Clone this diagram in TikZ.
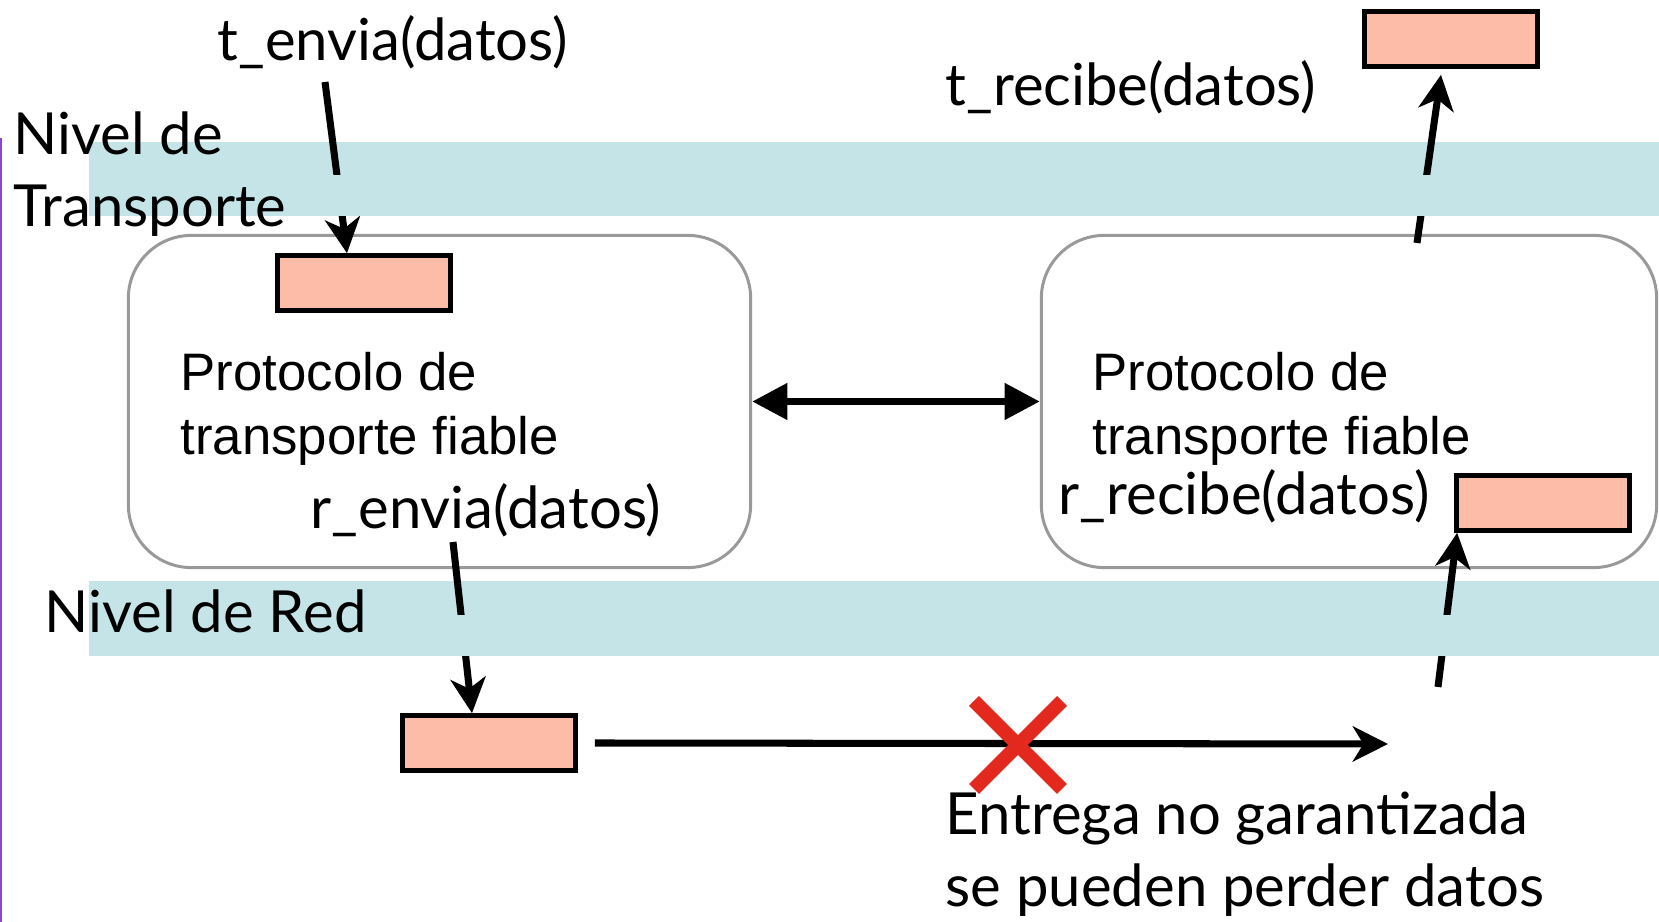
\documentclass[tikz,border=0pt]{standalone}
\usepackage{fontspec}
\usepackage{tikz}
\usetikzlibrary{arrows.meta}
\newfontfamily\gill{Lato}
\newfontfamily\arial{Liberation Sans}
\definecolor{banda}{RGB}{196,228,231}
\definecolor{rosa}{RGB}{253,188,167}
\definecolor{gris}{RGB}{153,153,153}
\definecolor{rojo}{RGB}{227,40,30}
\definecolor{lila}{RGB}{140,70,210}

\begin{document}
\begin{tikzpicture}[x=0.01cm,y=-0.01cm,
  caja/.style={draw=black,fill=rosa,line width=1.3pt,minimum width=1.73cm,minimum height=0.55cm,inner sep=0pt},
  proto/.style={draw=gris,line width=0.85pt,rounded corners=0.63cm,minimum height=3.32cm,inner sep=0pt},
  flecha/.style={-{Stealth[length=10pt,width=10pt,inset=3pt]},line width=2pt},
  doble/.style={{Triangle[length=10pt,width=10pt]}-{Triangle[length=10pt,width=10pt]},line width=2pt},
  etq/.style={font=\gill\fontsize{16.5}{20.5}\selectfont,inner sep=0pt,anchor=base west,align=left},
  txt/.style={font=\arial\fontsize{15}{18.2}\selectfont,inner sep=0pt,anchor=base west,align=left}]
\useasboundingbox (0,0) rectangle (1659,922);
% bandas
\fill[banda] (89,142) rectangle (1659,216);
\fill[banda] (89,581) rectangle (1659,656);
\draw[lila,line width=0.6pt] (1,138) -- (1,922);
% protocolos
\node [proto,minimum width=6.22cm] (p1) at (439.5,401.5) {};
\node [proto,minimum width=6.15cm] (p2) at (1349,401.5) {};
% cajas de datos
\node [caja] (c1) at (364,283) {};
\node [caja] (c2) at (1451,39) {};
\node [caja] (c3) at (1543,503) {};
\node [caja] (c4) at (489,743) {};
\coordinate (s1) at (325,82);
\coordinate (s2) at (453,542);
\coordinate (s3) at (1417,243);
\coordinate (s4) at (1438,687);
\coordinate (f) at (1388,744);
\draw[flecha] (s1) -- ([xshift=-0.17cm]c1.north);
\draw[flecha] (s2) -- ([xshift=-0.17cm]c4.north);
\draw[flecha] (s3) -- ([xshift=-0.1cm,yshift=-0.06cm]c2.south);
\draw[flecha] (s4) -- ([xshift=0.03cm]c3.south west);
\draw[flecha] ([xshift=0.17cm]c4.east) -- (f);
\draw[doble] (p1.east) -- (p2.west);
% parte baja de las bandas, por encima de las flechas
\fill[banda] (89,175) rectangle (1659,216);
\fill[banda] (89,615) rectangle (1659,656);
% perdida
\coordinate (x) at (1018,745);
\draw[rojo,line width=4pt] ([shift={(-44,-44)}]x) -- ([shift={(44,44)}]x);
\draw[rojo,line width=4pt] ([shift={(-44,44)}]x) -- ([shift={(44,-44)}]x);
% textos
\node [etq] (te) at (217,61) {t\_envia(datos)};
\node [etq] (tr) at (945,106) {t\_recibe(datos)};
\node [etq] (nt) at (13,227) {Nivel de\\Transporte};
\node [etq] (nr) at (44,633) {Nivel de Red};
\node [txt] (pt1) at (180,455) {Protocolo de\\transporte fiable};
\node [txt] (pt2) at (1092,455) {Protocolo de\\transporte fiable};
\node [etq] (re) at (310,529) {r\_envia(datos)};
\node [etq] (rr) at (1058,515) {r\_recibe(datos)};
\node [etq] (en) at (945,907) {Entrega no garantizada\\se pueden perder datos};
\end{tikzpicture}
\end{document}
